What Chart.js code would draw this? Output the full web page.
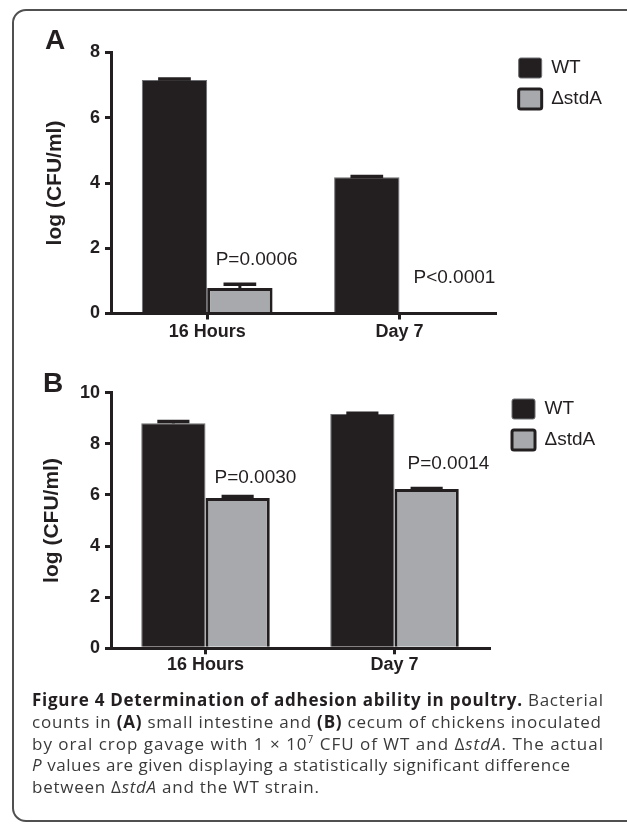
<!DOCTYPE html>
<html><head><meta charset="utf-8">
<script src="https://cdn.jsdelivr.net/npm/chart.js@4.4.1/dist/chart.umd.min.js"></script>
<style>
html,body{margin:0;padding:0;background:#fff;}
body{width:627px;height:824px;position:relative;overflow:hidden;font-family:"Liberation Sans",Arial,sans-serif;}
#frame{position:absolute;left:12px;top:9px;width:700px;height:813px;border:2px solid #505050;border-radius:14px;box-sizing:border-box;}
.wrap{position:absolute;left:0;width:627px;}
#wrapA{top:0;height:345px;}
#wrapB{top:345px;height:345px;}
.plabel{position:absolute;font:bold 28px/28px "Liberation Sans",Arial,sans-serif;color:#231f20;}
.cap{position:absolute;left:32px;font-family:"Open Sans",sans-serif;font-size:17px;line-height:22px;color:#3a3a3a;white-space:nowrap;}
.cap b{color:#231f20;font-weight:700;}
.cap sup{font-size:10px;vertical-align:7px;line-height:0;}
</style></head><body>
<div id="frame"></div>
<div class="wrap" id="wrapA"><canvas id="chartA" width="627" height="345"></canvas></div>
<div class="wrap" id="wrapB"><canvas id="chartB" width="627" height="345"></canvas></div>
<div class="plabel" style="left:45px;top:26px;">A</div>
<div class="plabel" style="left:43px;top:369px;">B</div>
<div class="cap" data-right="603" style="top:689px;"><b>Figure 4 Determination of adhesion ability in poultry.</b> Bacterial</div>
<div class="cap" data-right="601" style="top:711px;">counts in <b>(A)</b> small intestine and <b>(B)</b> cecum of chickens inoculated</div>
<div class="cap" data-right="603" style="top:732.5px;">by oral crop gavage with 1 × 10<sup>7</sup> CFU of WT and Δ<i>stdA</i>. The actual</div>
<div class="cap" data-right="570" style="top:754px;"><i>P</i> values are given displaying a statistically significant difference</div>
<div class="cap" data-right="319" style="top:775.5px;">between Δ<i>stdA</i> and the WT strain.</div>
<script>
// ---------- data ----------
const categories = ['16 Hours', 'Day 7'];
const seriesNames = ['WT', 'ΔstdA'];
// Panel A: small intestine
const aWT = [7.16, 4.18];
const aWTErr = [0.03, 0.02];
const aMut = [0.78, 0];
const aMutErr = [0.12, 0];
const aTicks = [0, 2, 4, 6, 8];
const aPText = ['P=0.0006', 'P<0.0001'];
// Panel B: cecum
const bWT = [8.80, 9.17];
const bWTErr = [0.07, 0.03];
const bMut = [5.88, 6.23];
const bMutErr = [0.06, 0.02];
const bTicks = [0, 2, 4, 6, 8, 10];
const bPText = ['P=0.0030', 'P=0.0014'];
const yTitle = 'log (CFU/ml)';

// ---------- style ----------
const INK = '#231f20';
const GREY = '#a7a9ac';
Chart.defaults.font.family = '"Liberation Sans", Arial, sans-serif';
Chart.defaults.color = INK;

const errorBarPlugin = {
  id: 'errorBars',
  afterDatasetsDraw(chart, args, opts) {
    const ctx = chart.ctx, y = chart.scales.y;
    ctx.save();
    ctx.strokeStyle = opts.color;
    chart.data.datasets.forEach((ds, di) => {
      const meta = chart.getDatasetMeta(di);
      meta.data.forEach((bar, i) => {
        const err = ds.errors[i];
        if (!err) return;
        const p = bar.getProps(['x', 'width'], true);
        const v = ds.data[i];
        const yTop = y.getPixelForValue(v + err), yBase = y.getPixelForValue(v);
        const half = p.width * opts.capFrac / 2;
        ctx.lineWidth = opts.stemWidth;
        ctx.beginPath(); ctx.moveTo(p.x, yBase); ctx.lineTo(p.x, yTop); ctx.stroke();
        ctx.lineWidth = opts.capWidth;
        ctx.beginPath(); ctx.moveTo(p.x - half, yTop); ctx.lineTo(p.x + half, yTop); ctx.stroke();
      });
    });
    ctx.restore();
  }
};

const pLabelPlugin = {
  id: 'pLabels',
  afterDatasetsDraw(chart, args, opts) {
    const ctx = chart.ctx, x = chart.scales.x, y = chart.scales.y;
    ctx.save();
    ctx.font = opts.font; ctx.fillStyle = opts.color;
    ctx.textAlign = 'left'; ctx.textBaseline = 'middle';
    opts.items.forEach(it => ctx.fillText(it.text, x.getPixelForValue(it.index) + it.dx, y.getPixelForValue(it.y)));
    ctx.restore();
  }
};

function legendWidth() {
  const c = document.createElement('canvas').getContext('2d');
  c.font = 'normal 19px "Liberation Sans", Arial, sans-serif';
  const w = Math.max(...seriesNames.map(s => c.measureText(s).width));
  return 11 + 23 + 9.5 + w;
}

function makeChart(id, cfg) {
  const W = 627, H = 345;
  const spacerRight = 12;
  const padRight = W - cfg.areaRight - spacerRight - legendWidth();
  return new Chart(document.getElementById(id), {
    type: 'bar',
    data: {
      labels: categories,
      datasets: [
        { label: seriesNames[0], data: cfg.wt, errors: cfg.wtErr, backgroundColor: INK, borderColor: '#6d6e71', borderWidth: 1, xAxisID: 'x', yAxisID: 'y', categoryPercentage: 0.68, barPercentage: 1.0 },
        { label: seriesNames[1], data: cfg.mut, errors: cfg.mutErr, backgroundColor: GREY, borderColor: INK, borderWidth: 3, xAxisID: 'x', yAxisID: 'y', categoryPercentage: 0.68, barPercentage: 1.0 }
      ]
    },
    options: {
      responsive: false, animation: false, devicePixelRatio: 1,
      layout: { padding: { top: cfg.legendTop, right: padRight, bottom: 0, left: 0 } },
      scales: {
        x: {
          type: 'category', position: 'bottom', offset: true,
          grid: { display: true, drawOnChartArea: false, offset: false, drawTicks: true, tickLength: 6, lineWidth: 3, color: INK },
          border: { display: true, width: 3, color: INK },
          ticks: { font: { size: 18, weight: 'bold' }, color: INK, padding: cfg.xPad, maxRotation: 0 },
          afterFit: s => { s.height = H - cfg.areaBottom; }
        },
        xTop: {
          type: 'category', position: 'top', display: true,
          grid: { display: false, drawTicks: false }, border: { display: false }, ticks: { display: false },
          afterFit: s => { s.height = cfg.areaTop - cfg.legendTop; }
        },
        y: {
          type: 'linear', position: 'left', min: 0, max: cfg.max,
          afterBuildTicks: s => { s.ticks = cfg.ticks.map(v => ({ value: v })); },
          grid: { display: true, drawOnChartArea: false, drawTicks: true, tickLength: 6, lineWidth: 3, color: INK },
          border: { display: true, width: 3, color: INK },
          ticks: { font: { size: 18, weight: 'bold' }, color: INK, padding: 5 },
          title: { display: true, text: yTitle, font: { size: 21, weight: 'bold' }, color: INK, padding: { top: cfg.titleX - 12.6, bottom: 0 } },
          afterFit: s => { s.width = 111; }
        },
        yRight: {
          type: 'linear', position: 'right', display: true,
          grid: { display: false, drawTicks: false }, border: { display: false }, ticks: { display: false },
          afterFit: s => { s.width = spacerRight; }
        }
      },
      plugins: {
        legend: {
          display: true, position: 'right', align: 'start',
          labels: { boxWidth: 23, boxHeight: 20, padding: 11, color: INK, font: { size: 19 }, useBorderRadius: true, borderRadius: 2 }
        },
        tooltip: { enabled: false },
        errorBars: { color: INK, stemWidth: 3, capWidth: 3.5, capFrac: 0.5 },
        pLabels: { font: 'normal 19px "Liberation Sans", Arial, sans-serif', color: INK, items: cfg.pItems }
      }
    },
    plugins: [errorBarPlugin, pLabelPlugin]
  });
}

makeChart('chartA', {
  wt: aWT, wtErr: aWTErr, mut: aMut, mutErr: aMutErr, ticks: aTicks, max: 8,
  areaTop: 52.5, areaBottom: 313.5, areaRight: 503, legendTop: 47, xPad: 2, titleX: 55,
  pItems: [ { text: aPText[0], index: 0, dx: 8.5, y: 1.64 }, { text: aPText[1], index: 1, dx: 14, y: 1.09 } ]
});
makeChart('chartB', {
  wt: bWT, wtErr: bWTErr, mut: bMut, mutErr: bMutErr, ticks: bTicks, max: 10,
  areaTop: 47.7, areaBottom: 303.3, areaRight: 495, legendTop: 43, xPad: 0, titleX: 52,
  pItems: [ { text: bPText[0], index: 0, dx: 9, y: 6.66 }, { text: bPText[1], index: 1, dx: 13, y: 7.21 } ]
});

// fit caption lines to the reference line lengths
document.querySelectorAll('.cap').forEach(el => {
  const target = parseFloat(el.dataset.right) - 32;
  const w = el.getBoundingClientRect().width;
  const n = el.textContent.length;
  if (n > 1) el.style.letterSpacing = ((target - w) / (n - 1)).toFixed(3) + 'px';
});
</script>
</body></html>
